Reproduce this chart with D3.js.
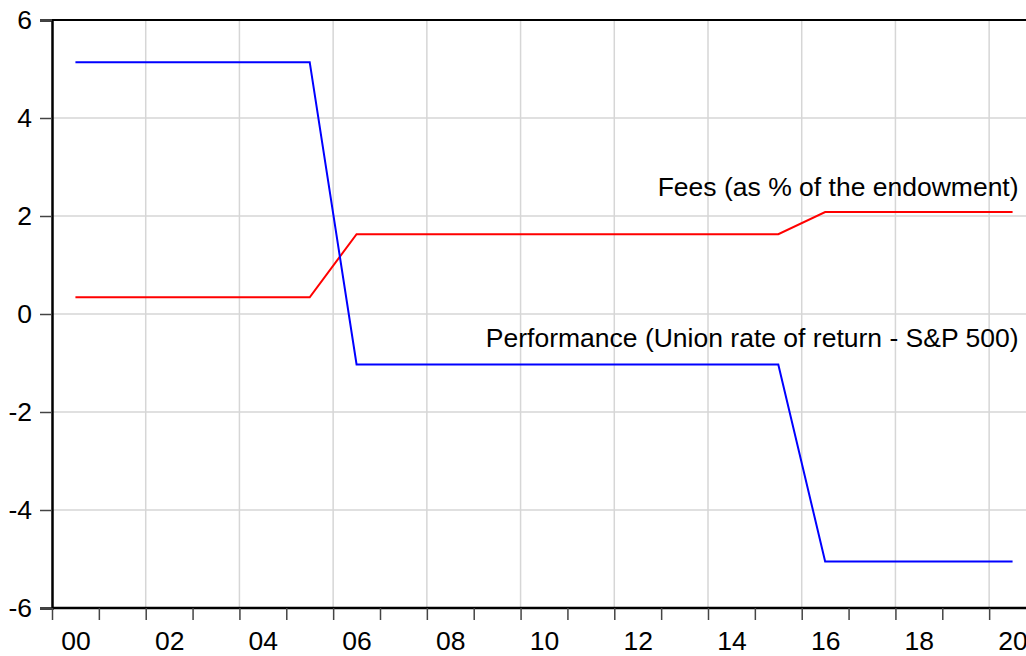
<!DOCTYPE html>
<html>
<head>
<meta charset="utf-8">
<script src="https://cdn.jsdelivr.net/npm/d3@7"></script>
<style>
  body { margin: 0; background: #fff; }
  text { font-family: "Liberation Sans", Arial, sans-serif; }
</style>
</head>
<body>
<div id="chart"></div>
<script>
// Data arrays (annual, plotted at mid-year)
let years = [2000,2001,2002,2003,2004,2005,2006,2007,2008,2009,2010,
             2011,2012,2013,2014,2015,2016,2017,2018,2019,2020];
let performance = [5.14,5.14,5.14,5.14,5.14,5.14,
                   -1.03,-1.03,-1.03,-1.03,-1.03,-1.03,-1.03,-1.03,-1.03,-1.03,
                   -5.05,-5.05,-5.05,-5.05,-5.05];
let fees = [0.34,0.34,0.34,0.34,0.34,0.34,
            1.63,1.63,1.63,1.63,1.63,1.63,1.63,1.63,1.63,1.63,
            2.08,2.08,2.08,2.08,2.08];
let yTicks = [-6,-4,-2,0,2,4,6];
let labelYears = [2000,2002,2004,2006,2008,2010,2012,2014,2016,2018,2020];
let feesLabel = "Fees (as % of the endowment)";
let perfLabel = "Performance (Union rate of return - S&P 500)";

// svg attributes
let svgWidth = 1026;
let svgHeight = 656;
let plotLeft = 52, plotTop = 20, plotBottom = 608;
let plotRight = 1036; // end of 2020, runs past the picture edge
let fontSize = 26.5;

let svg = d3.select("#chart")
  .append("svg")
  .attr("width", svgWidth)
  .attr("height", svgHeight);

let xScale = d3.scaleLinear()
  .domain([2000, 2021])
  .range([plotLeft, plotRight]);

let yScale = d3.scaleLinear()
  .domain([-6, 6])
  .range([plotBottom, plotTop]);

// grid lines
svg.append("g")
  .selectAll("line")
  .data(yTicks.filter(d => d > -6 && d < 6))
  .enter().append("line")
  .attr("x1", plotLeft).attr("x2", plotRight)
  .attr("y1", d => yScale(d)).attr("y2", d => yScale(d))
  .attr("stroke", "#d6d6d6").attr("stroke-width", 1.5);

svg.append("g")
  .selectAll("line")
  .data(labelYears.filter(d => d > 2000))
  .enter().append("line")
  .attr("x1", d => xScale(d)).attr("x2", d => xScale(d))
  .attr("y1", plotTop).attr("y2", plotBottom)
  .attr("stroke", "#d6d6d6").attr("stroke-width", 1.5);

// series
let line = d3.line()
  .x((d, i) => xScale(years[i] + 0.5))
  .y(d => yScale(d));

svg.append("path")
  .datum(fees)
  .attr("d", line)
  .attr("fill", "none")
  .attr("stroke", "#ff0000")
  .attr("stroke-width", 2);

svg.append("path")
  .datum(performance)
  .attr("d", line)
  .attr("fill", "none")
  .attr("stroke", "#0000ff")
  .attr("stroke-width", 2);

// frame
svg.append("line")
  .attr("x1", plotLeft).attr("x2", plotRight)
  .attr("y1", plotTop).attr("y2", plotTop)
  .attr("stroke", "#000").attr("stroke-width", 2);

// y axis (plain hyphen for negatives, as in the original)
let yAxis = svg.append("g")
  .attr("transform", `translate(${plotLeft},0)`)
  .call(d3.axisLeft(yScale).tickValues(yTicks).tickSize(12).tickPadding(8).tickFormat(d => String(d)));
yAxis.select(".domain").attr("stroke", "#000").attr("stroke-width", 2.5);
yAxis.selectAll(".tick line").attr("stroke", "#444").attr("stroke-width", 1.5);
yAxis.selectAll("text").attr("font-size", fontSize).attr("fill", "#000");

// x axis: ticks at each year start
let xAxis = svg.append("g")
  .attr("transform", `translate(0,${plotBottom})`)
  .call(d3.axisBottom(xScale).tickValues(years).tickSize(12).tickFormat(""));
xAxis.select(".domain").attr("stroke", "#000").attr("stroke-width", 2.5)
  .attr("d", `M${plotLeft},0H${plotRight}`);
xAxis.selectAll(".tick line").attr("stroke", "#444").attr("stroke-width", 1.5);

// x labels centered on mid-year
let xLabels = svg.append("g")
  .attr("transform", `translate(0,${plotBottom})`)
  .call(d3.axisBottom(xScale)
    .tickValues(labelYears.map(d => d + 0.5))
    .tickSize(0).tickPadding(23)
    .tickFormat(d => String(Math.floor(d) % 100).padStart(2, "0")));
xLabels.select(".domain").remove();
xLabels.selectAll("text").attr("font-size", fontSize).attr("fill", "#000");

// series labels
let lastX = xScale(years[years.length - 1] + 0.5) + 6;
svg.append("text")
  .attr("x", lastX)
  .attr("y", yScale(fees[fees.length - 1]) - 16)
  .attr("text-anchor", "end")
  .attr("font-size", fontSize)
  .text(feesLabel);

svg.append("text")
  .attr("x", lastX)
  .attr("y", yScale(performance[6]) - 17)
  .attr("text-anchor", "end")
  .attr("font-size", fontSize)
  .text(perfLabel);
</script>
</body>
</html>
